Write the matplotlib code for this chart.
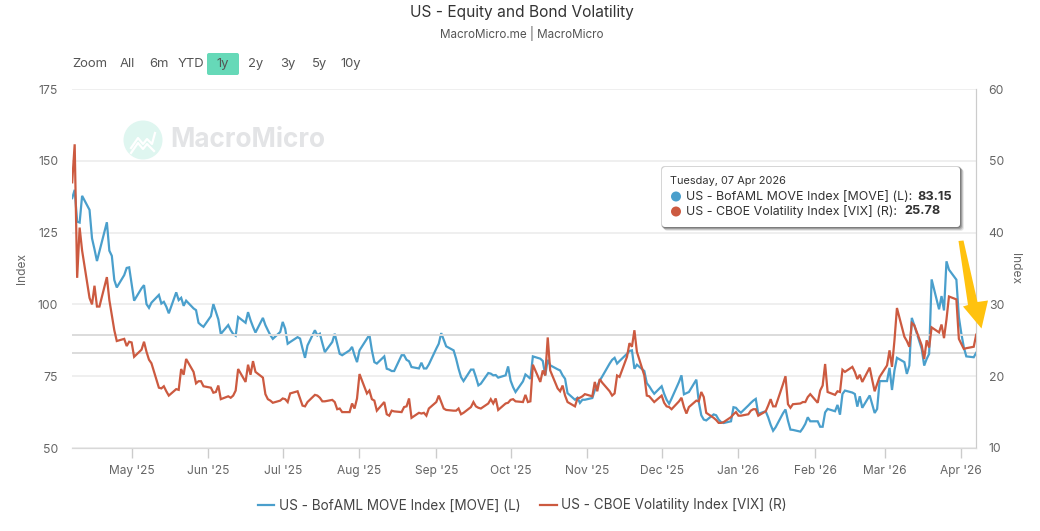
import matplotlib
matplotlib.use("Agg")
import matplotlib.pyplot as plt
import matplotlib.dates as mdates
from matplotlib.patches import Circle, FancyBboxPatch, Polygon
import pandas as pd

plt.rcParams['font.family'] = ['Inter', 'DejaVu Sans']

# one row per week, Monday to Friday
move_index = [
    137.0, 139.9, 128.8, 128.5, 137.8,
    132.9, 123.0, 119.2, 115.1, 118.5,
    128.6, 118.7, 116.9, 108.5, 105.9,
    110.2, 112.7, 112.9, 107.1, 101.3,
    105.6, 106.7, 100.1, 98.8, 100.6,
    103.3, 100.3, 100.9, 99.2, 96.9,
    104.2, 101.5, 102.3, 99.5, 101.3,
    98.6, 98.0, 93.6, 92.8, 92.2,
    95.9, 100.1, 97.4, 94.8, 89.7,
    92.8, 91.0, 89.7, 89.1, 95.6,
    93.6, 97.3, 94.5, 92.2, 90.2,
    95.3, 92.8, 91.0, 89.3, 88.0,
    90.4, 93.9, 91.5, 86.3, 86.9,
    88.6, 88.1, 84.6, 81.4, 85.7,
    91.0, 89.2, 89.8, 86.5, 83.4,
    86.9, 89.8, 86.3, 82.8, 82.3,
    84.0, 85.2, 82.3, 79.9, 84.0,
    88.1, 89.4, 84.0, 79.9, 79.4,
    81.9, 77.6, 77.3, 76.8, 76.8,
    82.3, 82.3, 80.7, 80.2, 78.2,
    77.7, 79.7, 77.7, 77.7, 79.1,
    84.6, 86.3, 90.0, 87.7, 85.4,
    84.0, 81.1, 77.6, 74.7, 73.3,
    77.3, 77.3, 74.7, 71.8, 72.4,
    76.1, 75.9, 75.3, 75.4, 74.5,
    75.3, 78.4, 73.5, 71.2, 69.5,
    73.2, 75.6, 74.9, 74.1, 81.9,
    81.1, 80.3, 75.3, 80.7, 78.8,
    77.4, 77.0, 75.3, 74.1, 69.1,
    66.8, 67.5, 65.7, 66.8, 66.8,
    67.4, 70.1, 71.5, 73.5, 74.9,
    79.4, 80.7, 81.4, 79.4, 80.3,
    82.8, 83.8, 84.0, 77.6, 79.0,
    76.8, 72.6, 71.5, 70.1, 68.9,
    71.5, 68.9, 66.8, 65.4, 67.2,
    73.0, 75.3, 68.7, 69.1, 69.5,
    73.8, 66.0, 61.4, 59.9, 59.6,
    61.7, 61.4, 59.9, 59.0, 58.7,
    59.3, 64.2, 64.0, 63.0, 62.3,
    64.8, 65.7, 66.5, 67.1, 61.9,
    62.8, 60.7, 58.1, 56.0, 57.2,
    62.1, 63.4, 59.5, 56.4, 56.3,
    55.7, 56.9, 58.4, 60.7, 59.3,
    59.3, 57.4, 57.4, 62.4, 63.6,
    62.8, 65.0, 61.6, 68.8, 70.0,
    69.3, 68.8, 64.4, 68.0, 64.0,
    68.3, 65.3, 62.2, 63.6, 73.3,
    73.3, 77.9, 70.2, 77.0, 81.4,
    79.9, 75.8, 78.7, 95.3, 92.7,
    84.5, 78.7, 81.0, 82.8, 108.7,
    98.3, 102.9, 97.9, 115.0, 112.1,
    108.6, 95.6, 89.8, 85.1, 81.9,
    81.6, 83.15,
]
vix_index = [
    47.0, 52.3, 33.7, 40.7, 37.5,
    30.9, 30.0, 32.6, 29.7, 29.7,
    33.8, 30.6, 28.5, 26.4, 24.9,
    25.2, 24.2, 24.8, 24.7, 22.7,
    23.7, 24.8, 23.4, 22.3, 21.8,
    18.4, 18.3, 18.6, 17.9, 17.3,
    18.2, 18.1, 21.0, 20.2, 22.4,
    20.6, 19.0, 19.3, 19.3, 18.6,
    18.4, 17.7, 17.8, 18.7, 16.8,
    17.2, 17.0, 17.3, 18.0, 21.0,
    19.2, 21.6, 20.2, 22.1, 20.6,
    19.8, 17.5, 16.8, 16.6, 16.3,
    16.6, 16.9, 16.8, 16.4, 17.6,
    17.9, 16.9, 15.9, 15.8, 16.4,
    17.4, 17.3, 17.0, 16.5, 16.5,
    16.7, 16.4, 15.4, 15.5, 15.0,
    15.0, 16.2, 15.5, 16.9, 20.3,
    17.6, 18.0, 16.8, 16.6, 15.2,
    16.4, 14.7, 14.5, 15.2, 15.1,
    15.0, 15.7, 15.8, 16.9, 14.2,
    14.9, 14.8, 14.9, 14.5, 15.5,
    16.4, 17.3, 16.4, 15.5, 15.3,
    15.2, 15.2, 15.5, 14.7, 14.9,
    15.7, 16.4, 15.8, 15.6, 15.5,
    16.2, 16.8, 16.2, 16.9, 15.3,
    16.2, 16.3, 16.7, 16.8, 16.5,
    16.4, 17.4, 16.4, 16.5, 21.6,
    19.2, 20.8, 20.1, 25.4, 20.8,
    18.3, 17.9, 18.7, 17.3, 16.4,
    15.8, 16.9, 17.0, 17.2, 17.5,
    17.2, 19.2, 17.9, 19.6, 19.1,
    17.9, 17.3, 17.6, 20.1, 19.9,
    22.7, 24.6, 24.1, 26.4, 23.4,
    20.1, 17.3, 17.2, 16.8, 16.4,
    17.3, 16.3, 15.8, 15.7, 15.4,
    16.5, 17.0, 15.7, 14.8, 15.7,
    16.6, 16.5, 17.8, 17.1, 14.9,
    14.2, 13.9, 13.5, 13.5, 13.6,
    14.3, 14.7, 15.0, 14.5, 14.5,
    14.7, 15.2, 15.4, 15.4, 14.5,
    15.1, 15.9, 16.8, 15.8, 15.8,
    18.9, 20.0, 16.1, 15.6, 16.1,
    16.2, 16.4, 16.4, 17.1, 17.5,
    16.3, 18.0, 18.7, 21.7, 17.8,
    17.4, 17.9, 17.8, 20.9, 20.6,
    21.3, 20.6, 19.6, 20.2, 19.2,
    21.2, 19.5, 17.9, 18.9, 19.9,
    21.5, 23.6, 21.3, 25.0, 29.5,
    25.5, 24.9, 24.1, 27.4, 27.1,
    24.3, 22.4, 25.0, 24.0, 26.8,
    26.1, 27.2, 25.3, 27.9, 31.1,
    30.7, 25.2, 24.5, 23.8, 23.9,
    24.1, 25.78,
]
dates = pd.bdate_range("2025-04-07", "2026-04-07")

left_ticks = [50, 75, 100, 125, 150, 175]
right_ticks = [10, 20, 30, 40, 50, 60]
range_buttons = ["All", "6m", "YTD", "1y", "2y", "3y", "5y", "10y"]
button_x = [127, 159, 191, 223, 256, 288, 320, 351]

BLUE = "#4a9fcc"
RED = "#cc5a40"
GREY = "#666666"
W, H = 1040, 531

fig = plt.figure(figsize=(W / 100, H / 100), dpi=100)
ax = fig.add_axes([72.2 / W, 1 - 448 / H, 904 / W, 359 / H])
ax2 = ax.twinx()
ax.set_zorder(1)
ax2.set_zorder(2)
ax.patch.set_visible(False)
ax2.patch.set_visible(False)

for y in left_ticks:
    ax.axhline(y, color="#ececec", lw=1.2, zorder=0)
# hover lines of the last point
ax.axhline(move_index[-1], color="#dcdcdc", lw=1.4, zorder=0)
ax2.axhline(vix_index[-1], color="#dcdcdc", lw=1.4, zorder=0)

ax.plot(dates, move_index, color=BLUE, lw=1.6, zorder=3, solid_joinstyle="miter", label="US - BofAML MOVE Index [MOVE] (L)")
ax2.plot(dates, vix_index, color=RED, lw=1.6, zorder=3, solid_joinstyle="miter", label="US - CBOE Volatility Index [VIX] (R)")

ax.set_xlim(dates[0], dates[-1])
ax.set_ylim(50, 175)
ax2.set_ylim(10, 60)
ax.set_yticks(left_ticks)
ax2.set_yticks(right_ticks)
ax.xaxis.set_major_locator(mdates.MonthLocator())
ax.xaxis.set_major_formatter(mdates.DateFormatter("%b '%y"))
ax.tick_params(axis="x", length=7, width=1, color="#cccccc", labelcolor=GREY, labelsize=8.6, pad=5.5)
ax.tick_params(axis="y", length=0, labelcolor=GREY, labelsize=8.8, pad=10)
ax2.tick_params(axis="y", length=0, labelcolor=GREY, labelsize=8.8, pad=9)
ax.set_ylabel("Index", color=GREY, fontsize=8.6, labelpad=7)
ax2.set_ylabel("Index", color=GREY, fontsize=8.6, rotation=270, labelpad=12)

for a in (ax, ax2):
    for side in ("top", "left"):
        a.spines[side].set_visible(False)
    a.spines["bottom"].set_color("#d8d8d8")
    a.spines["right"].set_color("#cccccc")

fig.legend(handles=ax.get_lines()[-1:] + ax2.get_lines()[-1:], loc="center", bbox_to_anchor=(522 / W, 1 - 505.5 / H),
           ncol=2, frameon=False, fontsize=9.75, labelcolor="#444444", handlelength=1.25, handletextpad=0.3, columnspacing=1.45)

# everything around the plot, in figure pixels
ov = fig.add_axes([0, 0, 1, 1], zorder=5)
ov.set_xlim(0, W)
ov.set_ylim(H, 0)
ov.axis("off")

ov.text(522, 12.5, "US - Equity and Bond Volatility", ha="center", va="center", fontsize=11.15, color="#333333")
ov.text(522, 33.5, "MacroMicro.me | MacroMicro", ha="center", va="center", fontsize=8.4, color="#555555")

ov.text(72, 64, "Zoom", va="center", fontsize=9.4, color="#555555")
ov.add_patch(FancyBboxPatch((207, 53), 32, 22, boxstyle="round,pad=0,rounding_size=2", fc="#66d9b8", ec="none"))
for label, bx in zip(range_buttons, button_x):
    ov.text(bx, 64, label, ha="center", va="center", fontsize=9.4, color="#555555")

# watermark
ov.add_patch(Circle((143, 140), 19.5, fc="#dff6f0", ec="none"))
ov.plot([131, 138, 143, 147, 152, 155], [148, 138, 144, 139, 144, 133], color="white", lw=1.6)
ov.plot([131, 138, 143, 147, 154], [153, 143, 149, 144, 151], color="white", lw=1.6)
ov.text(170, 140, "MacroMicro", va="center", fontsize=18.8, fontweight="bold", color="#e3e4e6")

# tooltip
for off, alpha in ((3, 0.10), (2, 0.16), (1, 0.22), (0, 0.2)):
    ov.add_patch(FancyBboxPatch((662 + off - 0.8, 167 + off - 0.8), 298 + 1.6, 60 + 1.6, boxstyle="round,pad=0,rounding_size=3",
                                fc="black", ec="none", alpha=alpha))
ov.add_patch(FancyBboxPatch((662, 167), 298, 60, boxstyle="round,pad=0,rounding_size=3", fc="white", ec="none"))
ov.text(670, 181.5, "Tuesday, 07 Apr 2026", va="center", fontsize=7.9, color="#333333")
ov.add_patch(Circle((676, 196.5), 5, fc=BLUE, ec="none"))
ov.add_patch(Circle((676, 211.5), 5, fc=RED, ec="none"))
ov.text(686, 196.5, "US - BofAML MOVE Index [MOVE] (L):", va="center", fontsize=8.95, color="#333333")
ov.text(686, 211.5, "US - CBOE Volatility Index [VIX] (R):", va="center", fontsize=8.95, color="#333333")
ov.text(917, 196.5, f"{move_index[-1]:.2f}", va="center", fontsize=9.2, fontweight="bold", color="#333333")
ov.text(904, 211.5, f"{vix_index[-1]:.2f}", va="center", fontsize=9.2, fontweight="bold", color="#333333")

# yellow arrow over the right edge
ov.add_patch(Polygon([(958.5, 241), (963.5, 240.5), (977.5, 302), (988, 300.5), (981.5, 328.5), (963, 306.5), (968, 305)],
                     closed=True, fc="#ffc20e", ec="none"))

fig.savefig("out.png", dpi=100)
